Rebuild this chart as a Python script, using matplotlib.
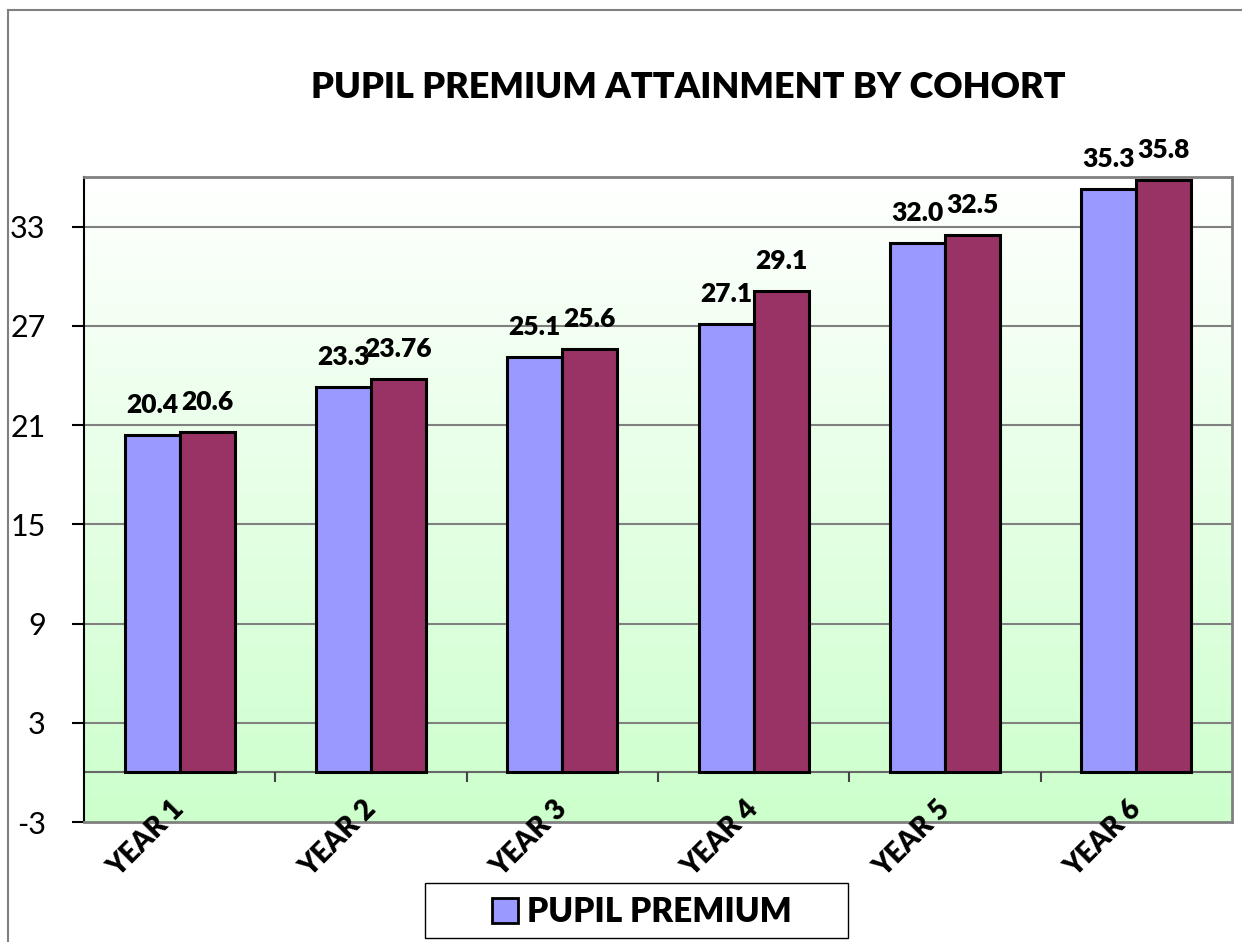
import numpy as np
import matplotlib
matplotlib.use("Agg")
import matplotlib.pyplot as plt
from matplotlib.patches import Patch, Rectangle
from matplotlib.colors import LinearSegmentedColormap
from matplotlib.transforms import ScaledTranslation

# Data
years = ["YEAR 1", "YEAR 2", "YEAR 3", "YEAR 4", "YEAR 5", "YEAR 6"]
pupil_premium = [20.4, 23.3, 25.1, 27.1, 32.0, 35.3]
other_series = [20.6, 23.76, 25.6, 29.1, 32.5, 35.8]
y_ticks = [-3, 3, 9, 15, 21, 27, 33]

plt.rcParams["font.family"] = ["Lato", "DejaVu Sans"]
BOLD = "heavy"

fig = plt.figure(figsize=(12.42, 9.42), dpi=100)
ax = fig.add_axes([84 / 1242, 120 / 942, 1148 / 1242, 645 / 942])

x = np.arange(len(years))
w = 0.288

# gradient background, white at top to pale green
cmap = LinearSegmentedColormap.from_list("bg", ["#ccffcc", "#ffffff"])
grad = np.linspace(0, 1, 256).reshape(-1, 1)
ax.imshow(grad, extent=[-0.5, len(years) - 0.5, -3, 36], origin="lower",
          aspect="auto", cmap=cmap, zorder=0)

ax.set_xlim(-0.5, len(years) - 0.5)
ax.set_ylim(-3, 36)

# grid lines
for t in y_ticks[1:]:
    ax.axhline(t, color="#808080", lw=1.5, zorder=1)
ax.axhline(0, color="#666666", lw=1.5, zorder=1)

b1 = ax.bar(x - w / 2, pupil_premium, w, color="#9999ff", edgecolor="black",
            linewidth=2.2, zorder=3)
b2 = ax.bar(x + w / 2, other_series, w, color="#993366", edgecolor="black",
            linewidth=2.2, zorder=3)

for bars, vals in [(b1, pupil_premium), (b2, other_series)]:
    for rect, v in zip(bars, vals):
        ax.annotate(str(v), (rect.get_x() + rect.get_width() / 2, v),
                    xytext=(0, 13), textcoords="offset points",
                    ha="center", va="bottom", fontsize=19, fontweight=BOLD,
                    annotation_clip=False, zorder=5)

# category tick marks on the zero line
ax.vlines(np.arange(len(years) - 1) + 0.5, -0.6, 0, color="#444444", lw=1.5, zorder=2)

ax.set_yticks(y_ticks)
ax.set_yticklabels([str(t) for t in y_ticks], fontsize=22)
ax.tick_params(axis="y", length=8.6, width=1.5, pad=19)
ax.set_xticks(x)
ax.set_xticklabels([])
ax.tick_params(axis="x", length=0)

# rotated category labels
lab_tr = ax.get_xaxis_transform() + ScaledTranslation(-0.33, -0.17, fig.dpi_scale_trans)
for i, name in enumerate(years):
    ax.text(i, 0, name, transform=lab_tr, rotation=45, ha="center", va="center",
            rotation_mode="anchor", fontsize=20, fontweight=BOLD, clip_on=False,
            zorder=6)

for s in ["top", "right", "bottom"]:
    ax.spines[s].set_color("#808080")
    ax.spines[s].set_linewidth(2)
ax.spines["left"].set_color("black")
ax.spines["left"].set_linewidth(1.5)

fig.text(688 / 1242, 1 - 87 / 942, "PUPIL PREMIUM ATTAINMENT BY COHORT",
         ha="center", va="center", fontsize=26, fontweight=BOLD)

# legend (only the first series is listed)
fig.add_artist(Rectangle((425 / 1242, 4 / 942), 423 / 1242, 55 / 942,
                         transform=fig.transFigure, facecolor="white",
                         edgecolor="black", lw=1.0))
fig.legend(handles=[Patch(facecolor="#9999ff", edgecolor="black", linewidth=2)],
           labels=["PUPIL PREMIUM"], loc="center",
           bbox_to_anchor=(642 / 1242, 1 - 912 / 942),
           prop={"size": 24, "weight": BOLD}, frameon=False,
           handlelength=0.78, handleheight=0.78, handletextpad=0.25,
           borderpad=0, borderaxespad=0)

# outer chart border (left and top edges visible)
fig.add_artist(plt.Line2D([8 / 1242, 8 / 1242], [0, 1 - 10 / 942],
                          transform=fig.transFigure, color="#808080", lw=1.5))
fig.add_artist(plt.Line2D([8 / 1242, 1], [1 - 10 / 942, 1 - 10 / 942],
                          transform=fig.transFigure, color="#808080", lw=1.5))

fig.savefig("out.png", dpi=100)
